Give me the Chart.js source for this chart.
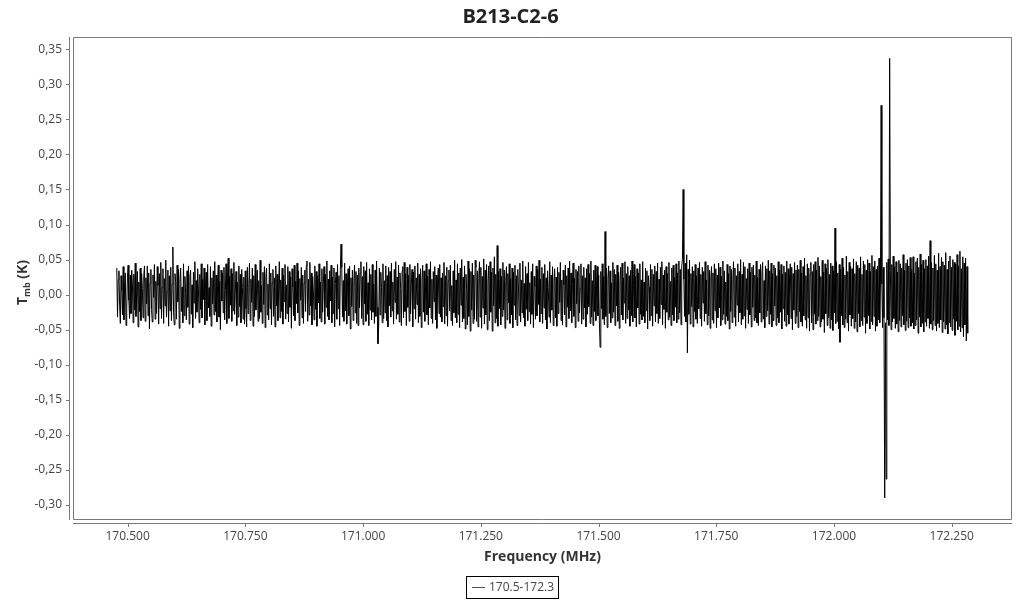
<!DOCTYPE html>
<html lang="en">
<head>
<meta charset="utf-8">
<title>B213-C2-6</title>
<script src="https://cdn.jsdelivr.net/npm/chart.js@4.4.1/dist/chart.umd.min.js"></script>
<style>
	html, body { margin: 0; padding: 0; background: #fff; }
	#spectrum { display: block; }
</style>
</head>
<body>
<canvas id="spectrum" width="1024" height="600"></canvas>
<script>
(function () {
	'use strict';

	/*
	|--------------------------------------------------------------------------
	| Data
	|--------------------------------------------------------------------------
	*/

	var TITLE        = 'B213-C2-6';
	var SERIES_LABEL = '170.5-172.3';

	// Channel grid of the spectrum (MHz).
	var FREQ_FIRST = 170.477;
	var FREQ_LAST  = 172.284;

	var X_TICKS = [170.5, 170.75, 171.0, 171.25, 171.5, 171.75, 172.0, 172.25];
	var Y_TICKS = [-0.30, -0.25, -0.20, -0.15, -0.10, -0.05, 0.00, 0.05, 0.10, 0.15, 0.20, 0.25, 0.30, 0.35];

	// Tmb (K), one value per channel.
	var TMB = [
		0.038, -0.032, 0.021, 0.034, -0.015, -0.041, 0.027, 0.006, -0.029, 0.040, -0.036, 0.012, 0.031, -0.044, -0.019, 0.025, 0.042, -0.008, -0.034, 0.028,
		-0.027, 0.035, 0.015, -0.040, 0.029, -0.022, 0.045, -0.031, 0.002, 0.033, -0.046, 0.018, -0.024, 0.038, -0.037, 0.030, 0.009, -0.033, 0.026, 0.041,
		-0.038, 0.024, -0.013, 0.041, -0.030, 0.031, -0.049, 0.016, 0.036, -0.021, -0.039, 0.028, -0.004, 0.043, -0.035, 0.019, -0.027, 0.040, 0.013, -0.042,
		0.030, -0.020, 0.046, -0.034, 0.010, 0.037, -0.041, 0.023, -0.016, 0.049, -0.032, 0.005, 0.035, -0.045, 0.027, -0.023, 0.039, -0.037, 0.015, 0.068,
		-0.026, -0.043, 0.030, 0.017, -0.035, 0.042, -0.010, 0.036, -0.048, 0.021, 0.038, -0.024, 0.011, -0.040, 0.044, -0.030, 0.026, 0.002, -0.036, 0.034,
		-0.018, 0.041, -0.042, 0.025, 0.035, -0.028, 0.014, -0.047, 0.032, -0.012, 0.047, -0.034, 0.020, -0.025, 0.037, 0.008, -0.040, 0.029, -0.021, 0.044,
		-0.033, 0.022, -0.007, 0.038, -0.043, 0.016, 0.032, -0.037, 0.043, -0.019, 0.010, -0.031, 0.040, -0.045, 0.024, -0.013, 0.034, -0.029, 0.047, -0.024,
		0.028, -0.039, 0.013, 0.042, -0.032, 0.019, -0.050, 0.035, -0.009, 0.031, -0.026, 0.039, -0.036, 0.006, 0.044, -0.041, 0.023, 0.052, -0.034, 0.026,
		-0.015, 0.037, -0.038, 0.030, -0.023, 0.046, -0.028, 0.004, 0.033, -0.044, 0.018, -0.032, 0.041, -0.017, 0.029, -0.040, 0.036, 0.010, -0.035, 0.025,
		-0.042, 0.034, -0.020, -0.046, 0.039, -0.027, 0.016, 0.045, -0.037, 0.022, -0.011, 0.038, -0.045, 0.027, -0.031, 0.043, -0.022, 0.008, 0.035, -0.038,
		0.020, -0.034, 0.049, -0.025, 0.013, -0.041, 0.032, -0.014, 0.040, -0.047, 0.026, 0.038, -0.029, 0.015, -0.036, 0.044, -0.020, 0.031, -0.043, 0.017,
		0.036, -0.031, 0.024, -0.046, 0.041, -0.016, 0.029, -0.037, 0.007, 0.047, -0.033, 0.021, -0.024, 0.038, -0.042, 0.028, -0.010, 0.043, -0.035, 0.014,
		-0.027, 0.040, -0.039, 0.033, -0.018, 0.025, -0.048, 0.037, 0.011, -0.030, 0.042, -0.037, 0.019, -0.013, 0.045, -0.026, 0.034, -0.044, 0.023, -0.008,
		0.039, -0.033, 0.028, -0.041, 0.017, 0.035, -0.024, 0.042, 0.048, -0.038, 0.022, -0.029, 0.046, -0.016, 0.031, -0.043, 0.026, 0.005, -0.036, 0.041,
		-0.021, 0.033, -0.045, 0.027, -0.012, 0.044, -0.034, 0.018, -0.039, 0.037, -0.025, 0.014, 0.040, -0.042, 0.029, -0.018, 0.048, -0.031, 0.022, -0.036,
		0.034, -0.009, 0.042, -0.040, 0.025, -0.027, 0.038, -0.046, 0.016, 0.032, -0.035, 0.043, -0.020, 0.027, -0.044, 0.036, 0.072, 0.039, -0.032, 0.020,
		-0.038, 0.045, -0.023, 0.030, -0.042, 0.012, 0.037, -0.030, 0.041, -0.049, 0.024, -0.017, 0.035, -0.037, 0.019, 0.042, -0.026, 0.033, -0.041, 0.028,
		-0.044, 0.038, -0.019, 0.031, 0.047, -0.034, 0.026, -0.043, 0.040, -0.013, 0.034, -0.038, 0.046, -0.028, 0.017, -0.044, 0.037, -0.022, 0.029, -0.036,
		0.043, -0.025, 0.015, -0.041, 0.035, -0.031, 0.048, -0.018, -0.070, -0.045, 0.038, -0.029, 0.032, 0.010, -0.040, 0.044, -0.034, 0.020, -0.026, 0.041,
		-0.037, 0.027, -0.046, 0.039, -0.016, 0.033, -0.032, 0.045, -0.023, 0.018, -0.042, 0.036, -0.011, 0.047, -0.035, 0.025, -0.028, 0.042, -0.039, 0.031,
		0.009, -0.044, 0.034, 0.040, -0.033, 0.046, -0.024, 0.030, -0.044, 0.039, -0.018, 0.028, -0.038, 0.043, -0.027, 0.015, 0.036, -0.046, 0.032, -0.020,
		0.041, -0.035, 0.024, -0.014, 0.045, -0.040, 0.029, -0.031, 0.037, -0.047, 0.019, 0.042, -0.025, 0.034, -0.038, 0.011, 0.044, -0.029, 0.026, -0.043,
		0.036, -0.019, 0.047, -0.034, 0.022, -0.041, 0.033, -0.010, 0.040, -0.036, 0.028, -0.048, 0.017, 0.038, -0.027, 0.043, -0.032, 0.024, -0.039, 0.031,
		-0.017, 0.046, -0.042, 0.027, -0.030, 0.039, -0.045, 0.020, 0.035, -0.023, 0.042, -0.037, 0.013, -0.044, 0.034, -0.026, 0.049, -0.033, 0.021, -0.040,
		0.044, -0.028, 0.031, -0.047, 0.038, -0.015, 0.050, -0.039, 0.025, -0.034, 0.041, -0.049, 0.029, 0.007, -0.043, 0.048, -0.031, 0.037, -0.052, 0.033,
		-0.022, 0.045, -0.041, 0.028, -0.035, 0.049, 0.039, -0.038, 0.034, -0.046, 0.023, 0.047, -0.032, 0.039, -0.048, 0.026, -0.019, 0.051, -0.042, 0.035,
		-0.029, 0.043, -0.050, 0.018, 0.041, -0.037, 0.047, -0.025, 0.032, -0.052, 0.038, -0.016, 0.054, -0.040, 0.029, -0.034, 0.070, -0.045, 0.033, -0.020,
		0.037, -0.043, 0.026, -0.031, 0.046, -0.022, 0.035, -0.048, 0.019, 0.040, -0.036, 0.030, -0.012, 0.044, -0.041, 0.023, -0.029, 0.038, -0.047, 0.032,
		-0.015, 0.042, -0.036, 0.027, -0.044, 0.036, 0.008, -0.030, 0.045, -0.039, 0.021, -0.026, 0.048, -0.033, 0.016, -0.045, 0.040, -0.021, 0.030, -0.037,
		0.046, -0.024, 0.017, -0.042, 0.033, -0.028, 0.044, -0.047, 0.026, 0.012, -0.035, 0.041, -0.030, 0.036, -0.014, 0.049, -0.039, 0.022, -0.027, 0.039,
		-0.041, 0.030, -0.019, 0.043, -0.036, 0.024, -0.049, 0.034, 0.010, -0.032, 0.047, -0.040, 0.028, -0.022, 0.040, -0.044, 0.019, 0.037, -0.033, 0.025,
		-0.045, 0.039, -0.027, 0.032, -0.011, 0.046, -0.037, 0.021, -0.043, 0.035, 0.014, -0.029, 0.042, -0.046, 0.027, -0.018, 0.038, -0.034, 0.048, -0.023,
		0.031, -0.040, 0.016, 0.045, -0.031, 0.023, -0.047, 0.036, -0.013, 0.033, -0.038, 0.041, -0.026, 0.009, 0.044, -0.042, 0.027, -0.035, 0.039, -0.019,
		0.024, -0.046, 0.037, -0.028, 0.043, -0.017, 0.030, -0.041, 0.048, -0.032, 0.020, -0.044, 0.035, -0.024, 0.042, -0.037, 0.013, 0.040, -0.030, 0.028,
		-0.039, -0.075, 0.033, -0.020, 0.044, -0.035, 0.026, -0.043, 0.090, -0.031, 0.038, -0.047, 0.022, 0.041, -0.027, 0.034, -0.040, 0.017, -0.033, 0.046,
		-0.025, 0.036, -0.044, 0.029, -0.016, 0.042, -0.038, 0.032, -0.048, 0.020, 0.039, -0.029, 0.045, -0.036, 0.024, -0.012, 0.047, -0.041, 0.030, -0.034,
		0.040, -0.022, 0.027, -0.045, 0.035, -0.030, 0.048, -0.039, 0.015, 0.043, -0.033, 0.026, -0.046, 0.037, -0.019, 0.031, -0.042, 0.044, -0.028, 0.021,
		-0.036, 0.047, -0.031, 0.018, -0.040, 0.038, -0.023, 0.034, -0.049, 0.027, 0.011, -0.037, 0.043, -0.030, 0.036, -0.045, 0.029, -0.016, 0.041, -0.039,
		0.033, -0.027, 0.045, -0.041, 0.022, -0.034, 0.039, -0.014, 0.047, -0.043, 0.028, -0.021, 0.035, -0.048, 0.040, -0.025, 0.030, -0.036, 0.046, -0.032,
		0.019, -0.044, 0.038, -0.029, 0.042, -0.037, 0.025, -0.018, 0.044, -0.040, 0.031, -0.035, 0.048, -0.026, 0.036, -0.043, 0.041, 0.050, 0.150, 0.022,
		-0.031, 0.045, -0.039, 0.057, -0.083, 0.036, -0.028, 0.049, -0.042, 0.030, -0.017, 0.040, -0.046, 0.034, -0.024, 0.043, -0.035, 0.027, -0.041, 0.038,
		-0.020, 0.046, -0.034, 0.029, -0.045, 0.039, -0.012, 0.033, -0.038, 0.047, -0.027, 0.021, -0.043, 0.042, -0.030, 0.035, -0.048, 0.024, 0.040, -0.036,
		0.031, -0.041, 0.044, -0.023, 0.037, -0.047, 0.028, -0.033, 0.045, -0.019, 0.039, -0.044, 0.026, -0.036, 0.048, -0.028, 0.034, -0.042, 0.018, -0.031,
		0.043, -0.037, 0.030, -0.049, 0.041, -0.024, 0.036, -0.040, 0.022, 0.047, -0.032, 0.038, -0.045, 0.027, -0.015, 0.044, -0.039, 0.033, -0.026, 0.050,
		-0.043, 0.029, -0.035, 0.046, -0.030, 0.040, -0.048, 0.023, -0.021, 0.037, -0.041, 0.045, -0.029, 0.032, -0.046, 0.039, -0.018, 0.042, -0.037, 0.028,
		-0.033, 0.048, -0.040, 0.025, -0.044, 0.036, -0.026, 0.043, -0.039, 0.031, 0.046, -0.035, 0.020, -0.047, 0.041, -0.031, 0.037, -0.023, 0.049, -0.042,
		0.034, -0.028, 0.045, -0.046, 0.030, -0.037, 0.042, -0.016, 0.038, -0.044, 0.027, -0.033, 0.047, -0.040, 0.035, -0.025, 0.043, -0.049, 0.029, -0.020,
		0.041, -0.038, 0.032, -0.045, 0.048, -0.029, 0.037, -0.042, 0.024, 0.044, -0.034, 0.039, -0.050, 0.030, -0.022, 0.046, -0.041, 0.035, -0.031, 0.042,
		-0.047, 0.036, -0.024, 0.049, -0.039, 0.031, -0.045, 0.040, -0.030, 0.052, -0.036, 0.027, -0.048, 0.044, -0.033, 0.038, -0.052, 0.029, 0.046, -0.040,
		0.033, -0.050, 0.043, -0.028, 0.047, -0.042, 0.035, -0.037, 0.053, -0.031, 0.041, -0.046, 0.026, -0.039, 0.049, -0.035, 0.032, -0.054, 0.044, -0.027,
		0.038, -0.044, 0.050, -0.033, 0.029, -0.048, 0.045, -0.036, 0.041, -0.051, 0.034, -0.026, 0.095, -0.041, 0.047, -0.038, 0.031, -0.049, 0.043, -0.068,
		0.036, -0.030, 0.052, -0.043, 0.039, -0.047, 0.028, -0.035, 0.055, -0.040, 0.033, -0.052, 0.046, -0.029, 0.040, -0.045, 0.037, -0.034, 0.051, -0.048,
		0.030, -0.039, 0.047, -0.053, 0.042, -0.027, 0.038, -0.046, 0.054, -0.037, 0.029, -0.044, 0.048, -0.032, 0.043, -0.055, 0.035, -0.041, 0.050, -0.030,
		0.045, -0.049, 0.033, -0.038, 0.056, -0.043, 0.040, -0.031, 0.048, -0.052, 0.036, -0.045, 0.041, -0.036, 0.052, -0.040, 0.018, 0.270, 0.015, -0.047,
		0.039, -0.033, -0.290, -0.040, -0.263, 0.046, -0.036, 0.051, -0.044, 0.337, 0.034, -0.050, 0.043, -0.039, 0.055, -0.034, 0.040, -0.048, 0.047, -0.042,
		0.032, -0.053, 0.049, -0.037, 0.044, -0.046, 0.038, -0.030, 0.057, -0.043, 0.035, -0.051, 0.045, -0.038, 0.050, -0.047, 0.041, -0.033, 0.053, -0.045,
		0.036, -0.040, 0.054, -0.049, 0.031, -0.044, 0.047, -0.036, 0.052, -0.055, 0.039, -0.032, 0.058, -0.046, 0.043, -0.041, 0.049, -0.053, 0.037, -0.039,
		0.050, -0.045, 0.041, -0.034, 0.055, -0.048, 0.077, -0.042, 0.046, -0.050, 0.038, -0.037, 0.056, -0.044, 0.044, -0.052, 0.035, -0.041, 0.059, -0.047,
		0.040, -0.036, 0.053, -0.054, 0.047, -0.039, 0.042, -0.049, 0.060, -0.043, 0.036, -0.056, 0.048, -0.040, 0.055, -0.046, 0.039, -0.051, 0.050, -0.035,
		0.046, -0.058, 0.044, -0.038, 0.057, -0.050, 0.041, -0.045, 0.062, -0.053, 0.037, -0.047, 0.054, -0.060, 0.045, -0.043, 0.052, -0.066, 0.040, -0.055
	];

	/*
	|--------------------------------------------------------------------------
	| Styling
	|--------------------------------------------------------------------------
	*/

	var FONT_FAMILY = "'Open Sans', 'Noto Sans', sans-serif";
	var AXIS_GREY   = '#7a7a7a';
	var TICK_COLOR  = '#444';
	var TITLE_COLOR = '#222';

	Chart.defaults.font.family = FONT_FAMILY;
	Chart.defaults.font.size   = 12;
	Chart.defaults.color       = TICK_COLOR;

	/*
	|--------------------------------------------------------------------------
	| Plugins
	|--------------------------------------------------------------------------
	*/

	// Plot frame plus the detached left / bottom axis lines with their tick marks.
	var axisFrame = {
		id: 'axisFrame',
		afterDraw: function (chart) {
			var ctx = chart.ctx;
			var a   = chart.chartArea;
			var xs  = chart.scales.x;
			var ys  = chart.scales.y;
			var axX = a.left - 3.5;
			var axY = a.bottom + 3.5;

			ctx.save();
			ctx.strokeStyle = AXIS_GREY;
			ctx.lineWidth   = 1;
			ctx.beginPath();
			ctx.rect(a.left + 0.5, a.top + 0.5, a.right - a.left - 1, a.bottom - a.top - 1);

			ctx.moveTo(axX, a.top);
			ctx.lineTo(axX, a.bottom);
			ys.ticks.forEach(function (t) {
				var py = Math.round(ys.getPixelForValue(t.value)) + 0.5;
				ctx.moveTo(axX - 3.5, py);
				ctx.lineTo(axX, py);
			});

			ctx.moveTo(a.left, axY);
			ctx.lineTo(a.right, axY);
			xs.ticks.forEach(function (t) {
				var px = Math.round(xs.getPixelForValue(t.value)) + 0.5;
				ctx.moveTo(px, axY);
				ctx.lineTo(px, axY + 3.5);
			});
			ctx.stroke();
			ctx.restore();
		},
	};

	// Y axis title with the "mb" subscript.
	var yAxisTitle = {
		id: 'yAxisTitle',
		afterDraw: function (chart) {
			var ctx  = chart.ctx;
			var a    = chart.chartArea;
			var big  = 'bold 14px ' + FONT_FAMILY;
			var sub  = 'bold 9px ' + FONT_FAMILY;

			ctx.save();
			ctx.font = big;
			var wT = ctx.measureText('T').width;
			var wK = ctx.measureText(' (K)').width;
			ctx.font = sub;
			var wS = ctx.measureText('mb').width;

			ctx.translate(27, (a.top + a.bottom) / 2 + 4);
			ctx.rotate(-Math.PI / 2);
			ctx.fillStyle    = '#333';
			ctx.textAlign    = 'left';
			ctx.textBaseline = 'alphabetic';

			var x = -(wT + wS + wK) / 2;
			ctx.font = big;
			ctx.fillText('T', x, 0);
			x += wT;
			ctx.font = sub;
			ctx.fillText('mb', x, 3);
			x += wS;
			ctx.font = big;
			ctx.fillText(' (K)', x, 0);
			ctx.restore();
		},
	};

	// Boxed legend under the axis title.
	var boxedLegend = {
		id: 'boxedLegend',
		afterDraw: function (chart) {
			var ctx   = chart.ctx;
			var label = chart.data.datasets[0].label;

			ctx.save();
			ctx.font = '12px ' + FONT_FAMILY;
			var tw   = ctx.measureText(label).width;
			var w    = Math.round(23 + tw + 4);
			var left = Math.round(chart.width / 2 - w / 2) + 0.5;
			var top  = chart.height - 24 + 0.5;

			ctx.lineWidth   = 1;
			ctx.strokeStyle = '#000';
			ctx.strokeRect(left, top, w, 22);

			ctx.strokeStyle = '#555';
			ctx.beginPath();
			ctx.moveTo(left + 5.5, top + 11);
			ctx.lineTo(left + 18.5, top + 11);
			ctx.stroke();

			ctx.fillStyle    = TICK_COLOR;
			ctx.textBaseline = 'middle';
			ctx.fillText(label, left + 22.5, top + 11.5);
			ctx.restore();
		},
	};

	/*
	|--------------------------------------------------------------------------
	| Chart
	|--------------------------------------------------------------------------
	*/

	var step   = (FREQ_LAST - FREQ_FIRST) / (TMB.length - 1);
	var points = TMB.map(function (t, i) {
		return { x: FREQ_FIRST + i * step, y: t };
	});

	new Chart(document.getElementById('spectrum'), {
		type: 'line',
		data: {
			datasets: [{
				label:       SERIES_LABEL,
				data:        points,
				borderColor: '#000',
				borderWidth: 1,
				pointRadius: 0,
				fill:        false,
				tension:     0,
			}],
		},
		options: {
			responsive: false,
			animation:  false,
			events:     [],
			parsing:    false,
			layout: {
				padding: { left: 9, right: 12, top: 0, bottom: 30 },
			},
			plugins: {
				legend:  { display: false },
				tooltip: { enabled: false },
				title: {
					display: true,
					text:    TITLE,
					color:   TITLE_COLOR,
					font:    { size: 20, weight: 'bold' },
					padding: { top: 5, bottom: 8 },
				},
			},
			scales: {
				x: {
					type: 'linear',
					min:  170.384,
					max:  172.378,
					afterFit: function (scale) { scale.height = 50; },
					afterBuildTicks: function (scale) {
						scale.ticks = X_TICKS.map(function (v) { return { value: v }; });
					},
					grid:   { display: false, drawTicks: false },
					border: { display: false },
					ticks: {
						padding:     9,
						autoSkip:    false,
						maxRotation: 0,
						color:       TICK_COLOR,
						callback: function (v) { return Number(v).toFixed(3); },
					},
					title: {
						display: true,
						text:    'Frequency (MHz)',
						color:   '#333',
						font:    { size: 14, weight: 'bold' },
						padding: { top: 4, bottom: 5 },
					},
				},
				y: {
					min: -0.3214,
					max: 0.3675,
					afterFit: function (scale) { scale.width = 64; },
					afterBuildTicks: function (scale) {
						scale.ticks = Y_TICKS.map(function (v) { return { value: v }; });
					},
					grid:   { display: false, drawTicks: false },
					border: { display: false },
					ticks: {
						padding:  11,
						autoSkip: false,
						color:    TICK_COLOR,
						callback: function (v) { return Number(v).toFixed(2).replace('.', ','); },
					},
				},
			},
		},
		plugins: [axisFrame, yAxisTitle, boxedLegend],
	});

})();
</script>
</body>
</html>
